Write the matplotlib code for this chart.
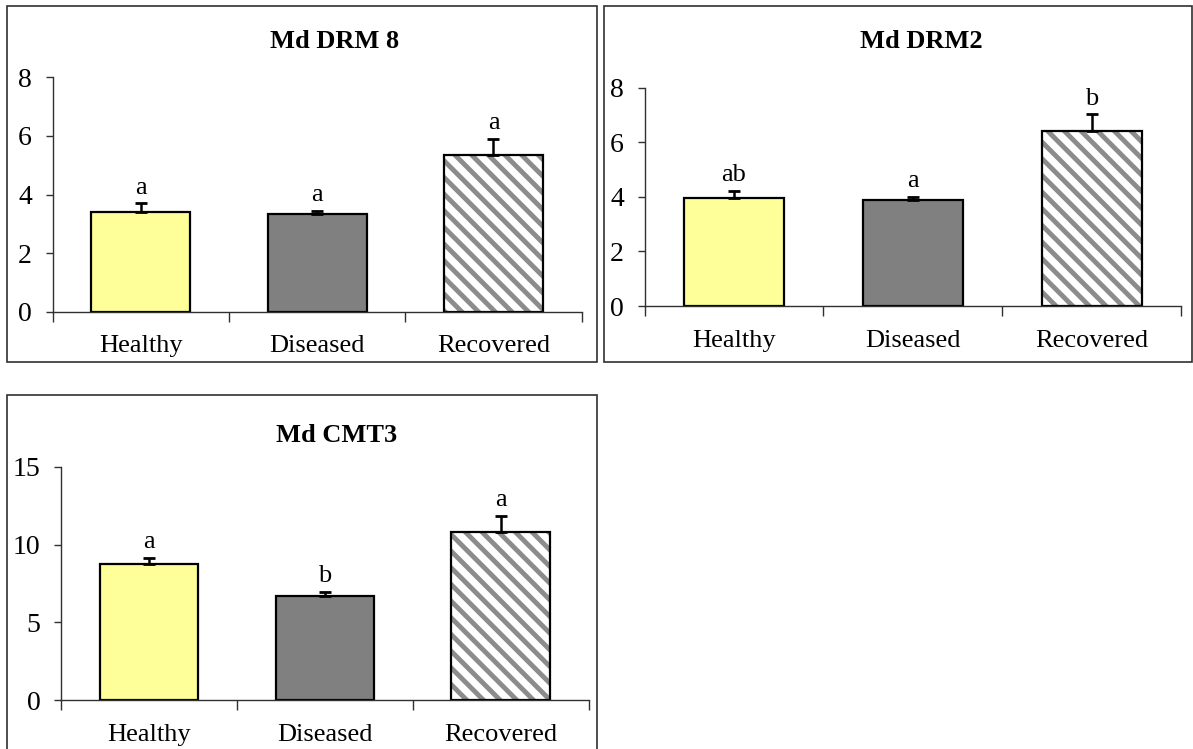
import numpy as np
import matplotlib.pyplot as plt
from matplotlib.patches import Rectangle

plt.rcParams['font.family'] = ['Liberation Serif', 'DejaVu Serif']
plt.rcParams['hatch.linewidth'] = 3.5

groups = ['Healthy', 'Diseased', 'Recovered']

drm8_mean = [3.39, 3.33, 5.36]
drm8_err = [0.31, 0.12, 0.55]
drm8_letters = ['a', 'a', 'a']

drm2_mean = [3.94, 3.87, 6.41]
drm2_err = [0.28, 0.12, 0.61]
drm2_letters = ['ab', 'a', 'b']

cmt3_mean = [8.76, 6.68, 10.83]
cmt3_err = [0.38, 0.26, 1.0]
cmt3_letters = ['a', 'b', 'a']

W, H = 1193, 749
fig = plt.figure(figsize=(W / 100, H / 100), dpi=100)

axis_col = '#303030'
fs = 19


def px_rect(x0, y0, x1, y1):
    # pixel box (top-left origin) -> figure fraction [left, bottom, width, height]
    return [x0 / W, 1 - y1 / H, (x1 - x0) / W, (y1 - y0) / H]


def frame(x0, y0, x1, y1):
    l, b, w, h = px_rect(x0, y0, x1, y1)
    fig.patches.append(Rectangle((l, b), w, h, transform=fig.transFigure,
                                 fill=False, edgecolor=axis_col, lw=1.2, zorder=0))


def panel(rect, title, title_xy, mean, err, letters, ymax, ystep):
    ax = fig.add_axes(px_rect(*rect))
    x = np.arange(len(groups))
    bw = 0.56
    # plain fills for the first two groups
    ax.bar(x[:2], mean[:2], width=bw, color=['#ffff99', '#808080'],
           edgecolor='black', lw=1.6, zorder=2)
    # striped bar: gray hatch first, black outline on top
    ax.bar(x[2], mean[2], width=bw, color='white', edgecolor='#8c8c8c',
           lw=0, hatch='\\\\', zorder=2)
    ax.bar(x[2], mean[2], width=bw, fill=False, edgecolor='black',
           lw=1.6, zorder=2.5)
    ax.errorbar(x, mean, yerr=[np.zeros(len(err)), err], fmt='none',
                ecolor='black', elinewidth=1.8, capsize=4, capthick=2, zorder=3)
    for i in range(len(groups)):
        ax.annotate(letters[i], (x[i], mean[i] + err[i]), xytext=(0, 7),
                    textcoords='offset points', ha='center', va='baseline',
                    fontsize=fs)
    ticks = np.arange(0, ymax + 0.1, ystep)
    ax.set_xlim(-0.5, 2.5)
    ax.set_ylim(0, ymax)
    ax.set_yticks(ticks)
    ax.set_yticklabels([f'{v:g}' for v in ticks])
    ax.set_xticks([-0.5, 0.5, 1.5, 2.5])
    ax.set_xticklabels([])
    ax.set_xticks(x, minor=True)
    ax.set_xticklabels(groups, minor=True)
    ax.tick_params(axis='x', which='major', direction='out', length=7,
                   width=1, color=axis_col)
    ax.tick_params(axis='x', which='minor', length=0, pad=17, labelsize=fs)
    ax.tick_params(axis='y', direction='out', length=5, width=1, color=axis_col,
                   labelsize=20, pad=10)
    for s in ['top', 'right']:
        ax.spines[s].set_visible(False)
    for s in ['left', 'bottom']:
        ax.spines[s].set_color(axis_col)
        ax.spines[s].set_linewidth(1)
    fig.text(title_xy[0] / W, 1 - title_xy[1] / H, title, ha='center',
             va='center', fontsize=fs, fontweight='bold')
    return ax


frame(7.5, 5.5, 597, 362)
frame(603.5, 5.5, 1192, 362)
frame(7.5, 394.5, 597, 760)

panel((52.7, 77.3, 581.6, 311.7), 'Md DRM 8', (335, 41),
      drm8_mean, drm8_err, drm8_letters, 8, 2)
panel((644.6, 87.7, 1181, 306), 'Md DRM2', (921.5, 41),
      drm2_mean, drm2_err, drm2_letters, 8, 2)
panel((61.4, 466.7, 588.5, 700.3), 'Md CMT3', (337, 435),
      cmt3_mean, cmt3_err, cmt3_letters, 15, 5)

fig.savefig('out.png', dpi=100, facecolor='white')
